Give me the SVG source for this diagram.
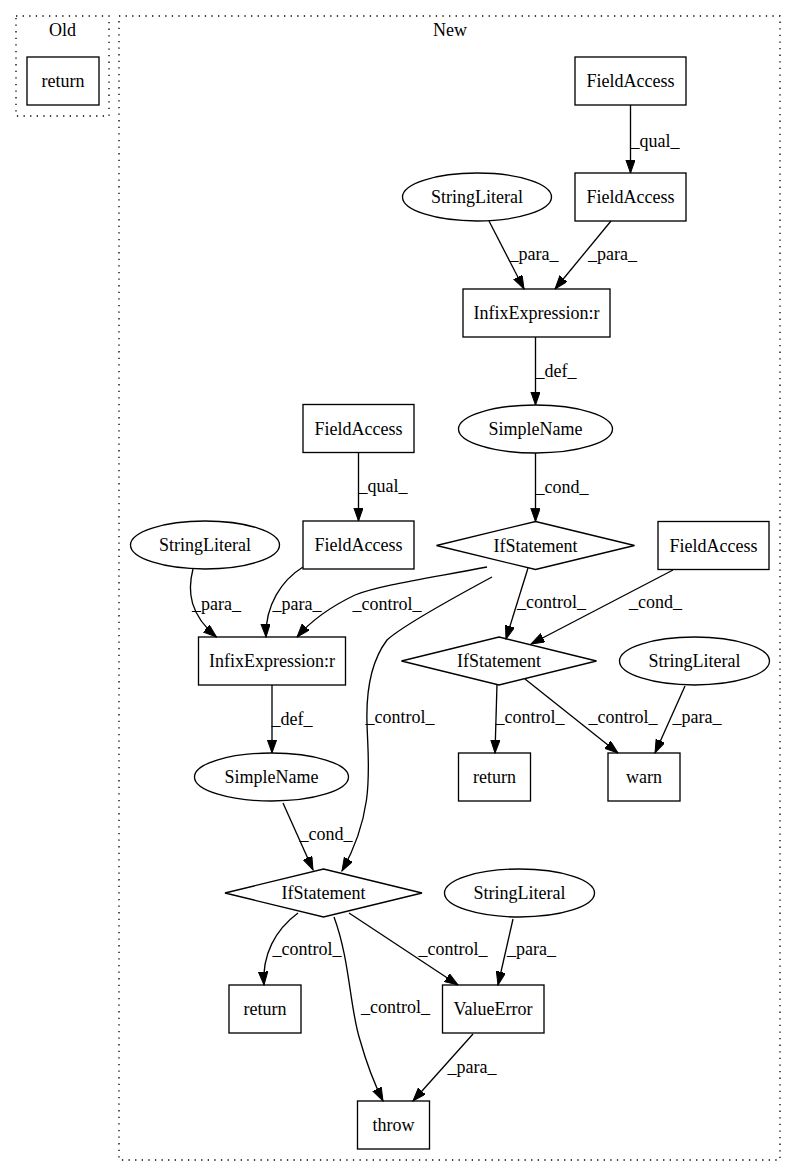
<svg xmlns="http://www.w3.org/2000/svg" width="796" height="1176" viewBox="0 0 796 1176">
<style>
text{font-family:"Liberation Serif","Times New Roman",serif;font-size:18px;fill:#000}
.n{text-anchor:middle}
.l{text-anchor:middle}
.s{fill:none;stroke:#000;stroke-width:1.33}
.c{fill:none;stroke:#000;stroke-width:1.33;stroke-dasharray:1.3,5.3}
.e{fill:none;stroke:#000;stroke-width:1.33;marker-end:url(#ah)}
</style>
<defs>
<marker id="ah" markerUnits="userSpaceOnUse" markerWidth="14" markerHeight="10" refX="13.3" refY="4.7" orient="auto">
<path d="M0,0 L13.3,4.7 L0,9.4 z" fill="#000" stroke="#000" stroke-width="1"/>
</marker>
</defs>
<rect x="0" y="0" width="796" height="1176" fill="#fff"/>
<g id="cluster_old">
<rect class="c" x="16" y="16" width="93" height="100"/>
<text class="n" x="62.5" y="36">Old</text>
</g>
<g id="cluster_new">
<rect class="c" x="119" y="16" width="661" height="1144"/>
<text class="n" x="450" y="36">New</text>
</g>
<g id="old_return"><rect class="s" x="27" y="57" width="72" height="48"/><text class="n" x="63" y="87">return</text></g>
<g id="fa1"><rect class="s" x="575" y="57" width="111" height="48"/><text class="n" x="630.5" y="87">FieldAccess</text></g>
<g id="fa2"><rect class="s" x="575" y="173" width="111" height="48"/><text class="n" x="630.5" y="203">FieldAccess</text></g>
<g id="sl1"><ellipse class="s" cx="477" cy="197" rx="74.5" ry="24"/><text class="n" x="477" y="203">StringLiteral</text></g>
<g id="infix1"><rect class="s" x="463" y="289" width="147" height="48"/><text class="n" x="536.5" y="319">InfixExpression:r</text></g>
<g id="sn1"><ellipse class="s" cx="535.5" cy="429" rx="77" ry="24"/><text class="n" x="535.5" y="435">SimpleName</text></g>
<g id="if1"><polygon class="s" points="535.5,521.5 634.5,545.5 535.5,569.5 436.5,545.5"/><text class="n" x="535.5" y="551.5">IfStatement</text></g>
<g id="fa3"><rect class="s" x="303" y="404.5" width="111" height="48"/><text class="n" x="358.5" y="434.5">FieldAccess</text></g>
<g id="fa4"><rect class="s" x="303" y="521" width="111" height="48"/><text class="n" x="358.5" y="551">FieldAccess</text></g>
<g id="sl2"><ellipse class="s" cx="205" cy="545" rx="74.5" ry="24"/><text class="n" x="205" y="551">StringLiteral</text></g>
<g id="fa5"><rect class="s" x="658" y="521.5" width="111" height="48"/><text class="n" x="713.5" y="551.5">FieldAccess</text></g>
<g id="infix2"><rect class="s" x="198.5" y="637" width="147" height="48"/><text class="n" x="272" y="667">InfixExpression:r</text></g>
<g id="if2"><polygon class="s" points="499,637 596.5,661 499,685 401.5,661"/><text class="n" x="499" y="667">IfStatement</text></g>
<g id="sl3"><ellipse class="s" cx="694.5" cy="661" rx="75" ry="24"/><text class="n" x="694.5" y="667">StringLiteral</text></g>
<g id="sn2"><ellipse class="s" cx="271.5" cy="777" rx="77" ry="24"/><text class="n" x="271.5" y="783">SimpleName</text></g>
<g id="ret2"><rect class="s" x="458.5" y="753" width="72" height="48"/><text class="n" x="494.5" y="783">return</text></g>
<g id="warn"><rect class="s" x="608" y="753" width="72" height="48"/><text class="n" x="644" y="783">warn</text></g>
<g id="if3"><polygon class="s" points="323.5,869 422,893 323.5,917 225,893"/><text class="n" x="323.5" y="899">IfStatement</text></g>
<g id="sl4"><ellipse class="s" cx="519.5" cy="893" rx="75" ry="24"/><text class="n" x="519.5" y="899">StringLiteral</text></g>
<g id="ret3"><rect class="s" x="229" y="985" width="72" height="48"/><text class="n" x="265" y="1015">return</text></g>
<g id="valueerror"><rect class="s" x="442.5" y="985" width="101.5" height="48"/><text class="n" x="493" y="1015">ValueError</text></g>
<g id="throw"><rect class="s" x="357.5" y="1101" width="72" height="48"/><text class="n" x="393.5" y="1131">throw</text></g>
<g id="edges">
<path class="e" d="M630.5,105 L630.5,173"/><text class="l" x="655" y="147">_qual_</text>
<path class="e" d="M489,221 L524,289"/><text class="l" x="534" y="260">_para_</text>
<path class="e" d="M611,221 L555,289"/><text class="l" x="612.5" y="260">_para_</text>
<path class="e" d="M535.5,337 L535.5,405"/><text class="l" x="556" y="377">_def_</text>
<path class="e" d="M535.5,453 L535.5,521.5"/><text class="l" x="562" y="493">_cond_</text>
<path class="e" d="M358.5,452.5 L358.5,521"/><text class="l" x="383" y="492">_qual_</text>
<path class="e" d="M193,569 C187,592 190,615 216.5,637"/><text class="l" x="216.5" y="610">_para_</text>
<path class="e" d="M303,567 C282,580 265,605 266,637"/><text class="l" x="297" y="610">_para_</text>
<path class="e" d="M487,567 C430,578 380,585 355,595 C330,607 310,622 297,637"/><text class="l" x="387" y="610">_control_</text>
<path class="e" d="M492,577 C440,605 400,628 387,640 C372,660 366,690 367,723 C368,765 376,810 342,871"/><text class="l" x="400" y="723">_control_</text>
<path class="e" d="M528,568 L506,639"/><text class="l" x="551.5" y="608">_control_</text>
<path class="e" d="M673,570 L531,644"/><text class="l" x="655.5" y="608">_cond_</text>
<path class="e" d="M497,684 L495,753"/><text class="l" x="530" y="723">_control_</text>
<path class="e" d="M525,679 L618,753"/><text class="l" x="623" y="723">_control_</text>
<path class="e" d="M685,686 L655,753"/><text class="l" x="697" y="723">_para_</text>
<path class="e" d="M272,685 L272,753"/><text class="l" x="292" y="725">_def_</text>
<path class="e" d="M283,803 L313,870"/><text class="l" x="326" y="840">_cond_</text>
<path class="e" d="M298,913 C275,930 262,955 264,985"/><text class="l" x="307" y="955">_control_</text>
<path class="e" d="M334,917 C350,960 350,1010 360,1040 C367,1065 375,1085 383,1101"/><text class="l" x="395.5" y="1013">_control_</text>
<path class="e" d="M349,913 L458,985"/><text class="l" x="453" y="955">_control_</text>
<path class="e" d="M513,919 L498,985"/><text class="l" x="531.5" y="955">_para_</text>
<path class="e" d="M473,1034 L413,1101"/><text class="l" x="472" y="1073">_para_</text>
</g>
</svg>
